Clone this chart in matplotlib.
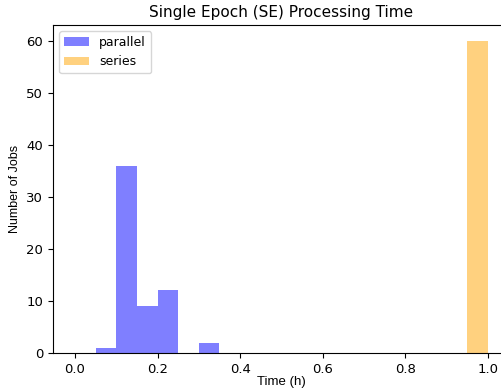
import matplotlib
matplotlib.use("Agg")
from matplotlib import pyplot as plt
import numpy as np

# bin edges (h) and job counts per bin
bin_edges = [0.0, 0.05, 0.10, 0.15, 0.20, 0.25, 0.30, 0.35, 0.40, 0.45, 0.50,
             0.55, 0.60, 0.65, 0.70, 0.75, 0.80, 0.85, 0.90, 0.95, 1.00]
parallel_counts = [0, 1, 36, 9, 12, 0, 2, 0, 0, 0, 0, 0, 0, 0, 0, 0, 0, 0, 0, 0]
series_counts = [0, 0, 0, 0, 0, 0, 0, 0, 0, 0, 0, 0, 0, 0, 0, 0, 0, 0, 0, 60]

centers = np.array(bin_edges[:-1]) + 0.025

fig = plt.figure(figsize=(5.02, 3.90), dpi=100)
ax = fig.add_axes([0.1056, 0.095, 0.91, 0.841])

ax.hist(centers, bins=bin_edges, weights=parallel_counts, color='blue', alpha=0.5, label='parallel')
ax.hist(centers, bins=bin_edges, weights=series_counts, color='orange', alpha=0.5, label='series')

ax.set_xlim(-0.053, 1.053)
ax.set_ylim(0, 63)
ax.set_title('Single Epoch (SE) Processing Time', fontsize=11)
ax.set_xlabel('Time (h)', fontsize=9.5, family='Liberation Sans', labelpad=0.5)
ax.set_ylabel('Number of Jobs', fontsize=9, family='Liberation Sans')
ax.tick_params(labelsize=9.5)
ax.legend(loc='upper left', fontsize=9)

fig.savefig('out.png', dpi=100)
